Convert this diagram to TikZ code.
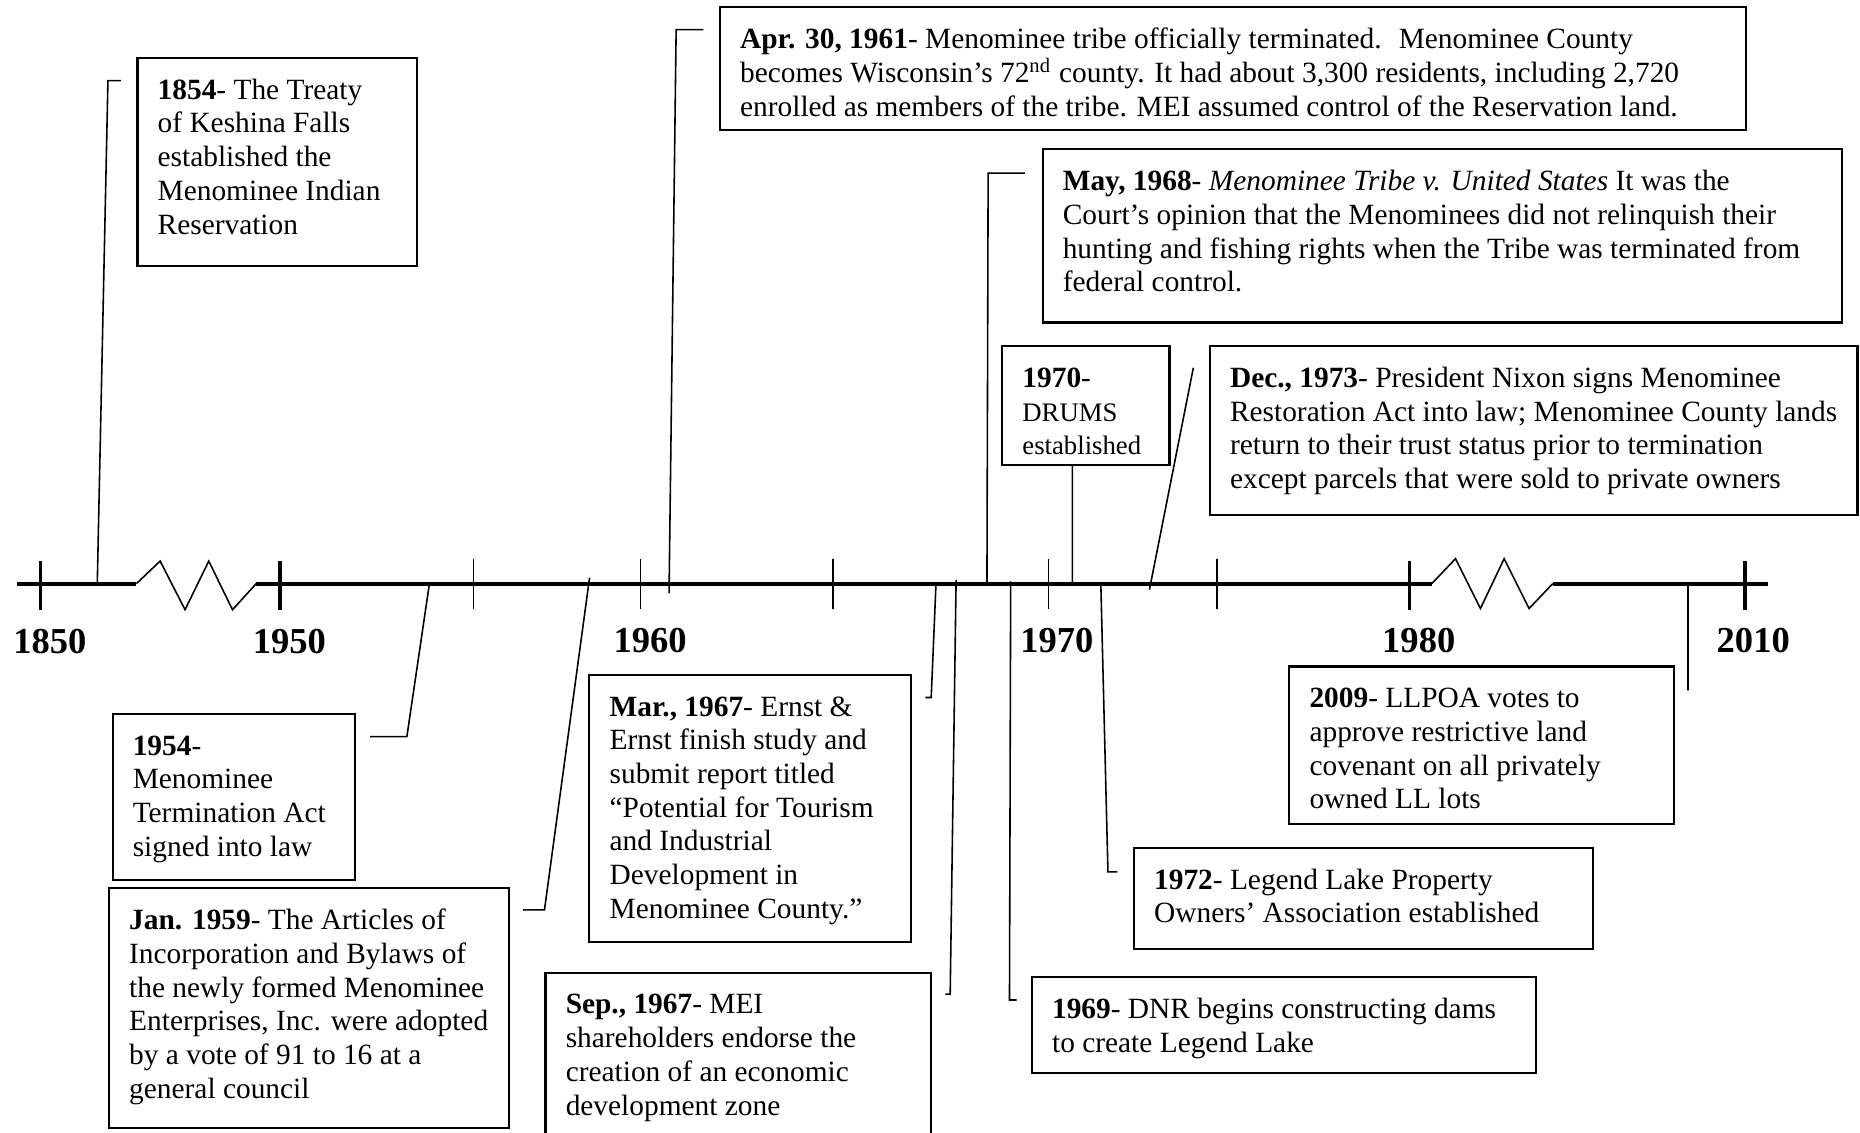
\documentclass[tikz,border=0pt]{standalone}
\usepackage{fontspec}
\setmainfont{Liberation Serif}

\newlength{\pxu}
\setlength{\pxu}{0.3375pt}
\newcommand{\when}[1]{\textbf{#1}-}
\newcommand{\evt}[3]{\begin{minipage}[t][\dimexpr#2\pxu-10pt\relax][t]{\dimexpr#1\pxu-11.5pt\relax}\begin{tabular}[t]{@{}l@{}}#3\end{tabular}\end{minipage}}
\newcommand{\smalltxt}{\fontsize{7.6}{9.3}\selectfont}

\begin{document}
\begin{tikzpicture}[
    x=0.3375pt,
    y=-0.3375pt,
    evt/.style={draw, line width=0.6pt, anchor=north west, inner xsep=5.75pt, inner ysep=5pt, font=\fontsize{8.36}{9.6}\selectfont},
    yr/.style={inner sep=0pt, font=\fontsize{10.4}{12}\selectfont\bfseries},
    axis/.style={line width=1.15pt},
    major/.style={line width=0.95pt},
    minor/.style={line width=0.45pt},
    leader/.style={line width=0.45pt},
]

    \useasboundingbox (0,0) rectangle (1568,955);

    \draw[axis] (14,492) -- (115,492) (216,492) -- (1207,492) (1309,492) -- (1490,492);
    \draw[minor] (115,492) -- (135,473) -- (156,514) -- (176,473) -- (196,514) -- (216,492);
    \draw[minor] (1207,492) -- (1227,471) -- (1248,513) -- (1268,471) -- (1289,513) -- (1309,492);
    \foreach \x in {34, 236, 1188, 1471} \draw[major] (\x,473) -- (\x,514);
    \foreach \x in {399, 540, 702, 884, 1026} \draw[minor] (\x,471) -- (\x,513);

    \node[yr] (y1850) at (42,541)   {1850};
    \node[yr] (y1950) at (244,541)  {1950};
    \node[yr] (y1960) at (548,540)  {1960};
    \node[yr] (y1970) at (891,540)  {1970};
    \node[yr] (y1980) at (1196,540) {1980};
    \node[yr] (y2010) at (1478,540) {2010};

    \node[evt] (e1854)  at (115,48)  {\evt{236}{175}{\when{1854} The Treaty\\of Keshina Falls\\established the\\Menominee Indian\\Reservation}};
    \node[evt] (e1961)  at (606,5)   {\evt{865}{104}{\when{Apr. 30, 1961} Menominee tribe officially terminated.~ Menominee County\\becomes Wisconsin’s 72\textsuperscript{nd} county. It had about 3,300 residents, including 2,720\\enrolled as members of the tribe. MEI assumed control of the Reservation land.}};
    \node[evt] (e1968)  at (878,125) {\evt{674}{146}{\when{May, 1968} \textit{Menominee Tribe v. United States} It was the\\Court’s opinion that the Menominees did not relinquish their\\hunting and fishing rights when the Tribe was terminated from\\federal control.}};
    \node[evt] (e1970)  at (844,291) {\evt{141}{100}{\when{1970}\\{\smalltxt DRUMS}\\{\smalltxt established}}};
    \node[evt] (e1973)  at (1019,291) {\evt{546}{142}{\when{Dec., 1973} President Nixon signs Menominee\\Restoration Act into law; Menominee County lands\\return to their trust status prior to termination\\except parcels that were sold to private owners}};
    \node[evt] (e1954)  at (94,601)  {\evt{204}{140}{\when{1954}\\Menominee\\Termination Act\\signed into law}};
    \node[evt] (e1959)  at (91,748)  {\evt{337}{202}{\when{Jan. 1959} The Articles of\\Incorporation and Bylaws of\\the newly formed Menominee\\Enterprises, Inc. were adopted\\by a vote of 91 to 16 at a\\general council}};
    \node[evt] (e1967a) at (496,568) {\evt{271}{225}{\when{Mar., 1967} Ernst \&\\Ernst finish study and\\submit report titled\\“Potential for Tourism\\and Industrial\\Development in\\Menominee County.”}};
    \node[evt] (e1967b) at (459,819) {\evt{325}{170}{\when{Sep., 1967} MEI\\shareholders endorse the\\creation of an economic\\development zone}};
    \node[evt] (e2009)  at (1086,561) {\evt{324}{133}{\when{2009} LLPOA votes to\\approve restrictive land\\covenant on all privately\\owned LL lots}};
    \node[evt] (e1972)  at (955,714) {\evt{387}{85}{\when{1972} Legend Lake Property\\Owners’ Association established}};
    \node[evt] (e1969)  at (869,823) {\evt{425}{81}{\when{1969} DNR begins constructing dams\\to create Legend Lake}};

    \coordinate (a1854)  at (82,492);   \coordinate (h1854)  at (102,68);
    \coordinate (a1961)  at (564,500);  \coordinate (h1961)  at (593,25);
    \coordinate (a1968)  at (832,492);  \coordinate (h1968)  at (864,146);
    \coordinate (a1970)  at (904,492);
    \coordinate (a1973)  at (969,497);  \coordinate (h1973)  at (1006,310);
    \coordinate (a1954)  at (362,492);  \coordinate (h1954)  at (312,621);
    \coordinate (a1959)  at (497,487);  \coordinate (h1959)  at (441,767);
    \coordinate (a1967a) at (789,493);  \coordinate (h1967a) at (780,588);
    \coordinate (a1967b) at (806,489);  \coordinate (h1967b) at (797,838);
    \coordinate (a1969)  at (852,490);  \coordinate (h1969)  at (857,843);
    \coordinate (a1972)  at (928,492);  \coordinate (h1972)  at (942,735);
    \coordinate (a2009)  at (1423,492); \coordinate (h2009)  at (1423,582);

    \path[draw, leader]
        (a1854)  -- (91,68)   -- (h1854)
        (a1961)  -- (570,25)  -- (h1961)
        (a1968)  -- (833,146) -- (h1968)
        (e1970.south -| a1970) -- (a1970)
        (a1973)  -- (h1973)
        (a1954)  -- (343,621) -- (h1954)
        (a1959)  -- (459,767) -- (h1959)
        (a1967a) -- (785,588) -- (h1967a)
        (a1967b) -- (801,838) -- (h1967b)
        (a1969)  -- (851,843) -- (h1969)
        (a1972)  -- (934,735) -- (h1972)
        (a2009)  -- (h2009)
    ;
\end{tikzpicture}
\end{document}
